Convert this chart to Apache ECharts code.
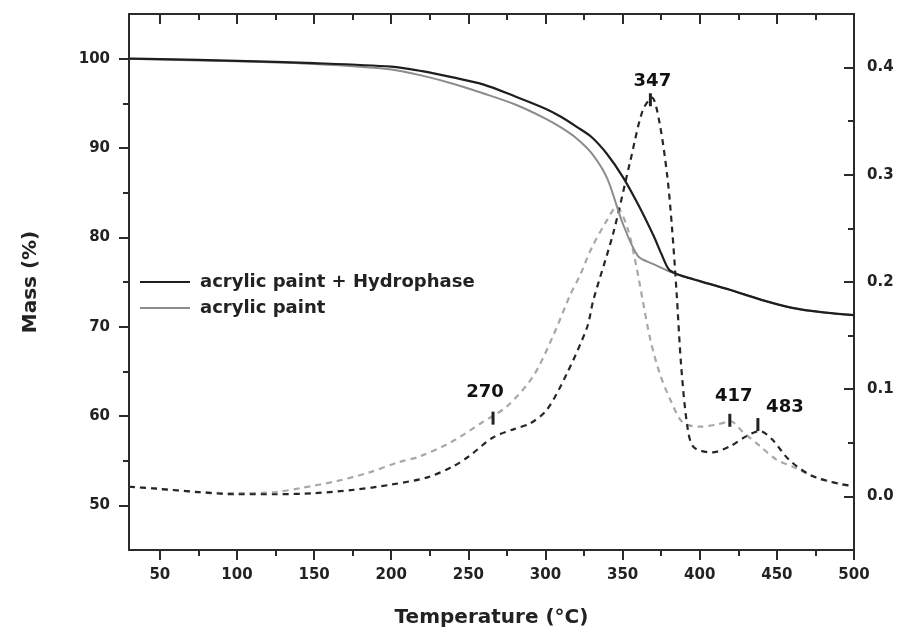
<!DOCTYPE html>
<html>
<head>
<meta charset="utf-8">
<script src="https://cdn.jsdelivr.net/npm/echarts@6/dist/echarts.min.js"></script>
<style>
  html, body { margin: 0; padding: 0; background: #fff; }
  #chart { width: 900px; height: 635px; }
</style>
</head>
<body>
<div id="chart"></div>
<script>
// mass curves (TG), left axis
const massTemps = [30, 50, 100, 150, 200, 220, 240, 260, 280, 300, 310, 320, 330, 340, 350, 360, 370, 375, 380, 385, 390, 400, 420, 440, 460, 480, 500];
const massHydro = [100, 99.95, 99.75, 99.5, 99.1, 98.6, 97.9, 97.1, 95.8, 94.4, 93.5, 92.4, 91.2, 89.3, 86.8, 83.7, 80.2, 78.2, 76.4, 75.9, 75.6, 75.1, 74.1, 73.0, 72.1, 71.6, 71.3];
const massPaint = [100, 99.9, 99.7, 99.4, 98.8, 98.1, 97.2, 96.1, 94.9, 93.3, 92.3, 91.1, 89.4, 86.6, 81.6, 77.9, 77.0, 76.6, 76.2, 75.9, 75.6, 75.1, 74.1, 73.0, 72.1, 71.6, 71.3];

// derivative curves (DTG), right axis
const dtgHydroTemps = [30, 50, 75, 100, 125, 150, 175, 200, 224, 240, 250, 266, 280, 290, 301, 314, 327, 331, 344, 355, 363, 369, 374, 379, 382, 385, 388, 392, 396, 408, 420, 430, 439, 447, 458, 473, 493, 500];
const dtgHydro = [0.009, 0.007, 0.004, 0.002, 0.002, 0.003, 0.006, 0.011, 0.018, 0.028, 0.037, 0.055, 0.063, 0.068, 0.081, 0.115, 0.158, 0.183, 0.246, 0.313, 0.36, 0.372, 0.348, 0.298, 0.251, 0.19, 0.121, 0.065, 0.046, 0.041, 0.047, 0.056, 0.061, 0.053, 0.034, 0.019, 0.011, 0.010];
const dtgPaintTemps = [30, 50, 75, 100, 125, 142, 164, 185, 205, 218, 238, 259, 275, 292, 305, 316, 322, 330, 340, 346, 353, 359, 363, 368, 374, 381, 389, 400, 411, 420, 428, 439, 450, 460, 475, 493, 500];
const dtgPaint = [0.009, 0.007, 0.004, 0.003, 0.004, 0.008, 0.014, 0.022, 0.032, 0.037, 0.05, 0.069, 0.084, 0.112, 0.15, 0.188, 0.205, 0.232, 0.258, 0.27, 0.251, 0.214, 0.183, 0.146, 0.115, 0.09, 0.069, 0.065, 0.067, 0.07, 0.06, 0.047, 0.034, 0.028, 0.018, 0.011, 0.010];

// peak annotations
const peakNames = ['270', '347', '417', '483'];
const peakTemps = [266, 368, 419.5, 437.7];
const peakMarks = [0.073, 0.370, 0.071, 0.067];

// axis ticks
const tempTicks = [50, 100, 150, 200, 250, 300, 350, 400, 450, 500];
const tempMinor = [75, 125, 175, 225, 275, 325, 375, 425, 475];
const massTicks = [50, 60, 70, 80, 90, 100];
const massMinor = [55, 65, 75, 85, 95];
const dtgTicks = [0, 0.1, 0.2, 0.3, 0.4];
const dtgMinor = [0.05, 0.15, 0.25, 0.35];

const font = "'DejaVu Sans', sans-serif";
const axisColor = '#2b2b2b';

const pairs = (xs, ys) => xs.map((x, i) => [x, ys[i]]);

function tickAxis(extra) {
  return Object.assign({
    type: 'value',
    splitLine: { show: false },
    axisLine: { show: false, onZero: false, lineStyle: { color: axisColor, width: 2 } },
    axisLabel: { show: false },
  }, extra);
}

const xBase = { min: 30, max: 500 };
const xAxes = [
  tickAxis(Object.assign({}, xBase, {
    position: 'bottom',
    axisLine: { show: true, onZero: false, lineStyle: { color: axisColor, width: 2 } },
    axisTick: { show: true, inside: false, length: 10, customValues: tempTicks, lineStyle: { color: axisColor, width: 2 } },
    axisLabel: { show: true, customValues: tempTicks, margin: 18, color: '#222', fontFamily: font, fontWeight: 'bold', fontSize: 15 },
    name: 'Temperature (°C)',
    nameLocation: 'middle',
    nameGap: 58,
    nameTextStyle: { color: '#222', fontFamily: font, fontWeight: 'bold', fontSize: 20 },
  })),
  tickAxis(Object.assign({}, xBase, {
    position: 'bottom',
    axisTick: { show: true, inside: false, length: 6, customValues: tempMinor, lineStyle: { color: axisColor, width: 2 } },
  })),
  tickAxis(Object.assign({}, xBase, {
    position: 'top',
    axisLine: { show: true, onZero: false, lineStyle: { color: axisColor, width: 2 } },
    axisTick: { show: true, inside: true, length: 10, customValues: tempTicks, lineStyle: { color: axisColor, width: 2 } },
  })),
  tickAxis(Object.assign({}, xBase, {
    position: 'top',
    axisTick: { show: true, inside: true, length: 6, customValues: tempMinor, lineStyle: { color: axisColor, width: 2 } },
  })),
];

const yAxes = [
  tickAxis({
    min: 45, max: 105, position: 'left',
    axisLine: { show: true, onZero: false, lineStyle: { color: axisColor, width: 2 } },
    axisTick: { show: true, inside: false, length: 10, customValues: massTicks, lineStyle: { color: axisColor, width: 2 } },
    axisLabel: { show: true, customValues: massTicks, margin: 19, color: '#222', fontFamily: font, fontWeight: 'bold', fontSize: 15 },
    name: 'Mass (%)',
    nameLocation: 'middle',
    nameGap: 88,
    nameTextStyle: { color: '#222', fontFamily: font, fontWeight: 'bold', fontSize: 20 },
  }),
  tickAxis({
    min: -0.05, max: 0.45, position: 'right',
    axisLine: { show: true, onZero: false, lineStyle: { color: axisColor, width: 2 } },
    axisTick: { show: true, inside: true, length: 10, customValues: dtgTicks, lineStyle: { color: axisColor, width: 2 } },
    axisLabel: { show: true, customValues: dtgTicks, margin: 13, color: '#222', fontFamily: font, fontWeight: 'bold', fontSize: 15, formatter: v => v.toFixed(1) },
  }),
  tickAxis({
    min: 45, max: 105, position: 'left',
    axisTick: { show: true, inside: false, length: 6, customValues: massMinor, lineStyle: { color: axisColor, width: 2 } },
  }),
  tickAxis({
    min: -0.05, max: 0.45, position: 'right',
    axisTick: { show: true, inside: true, length: 6, customValues: dtgMinor, lineStyle: { color: axisColor, width: 2 } },
  }),
];

// label nudges so the numbers sit like in the figure
const peakLabelOffsets = [[-8, -10], [2, -3], [4, -8], [27, -2]];

const chart = echarts.init(document.getElementById('chart'), null, { renderer: 'canvas' });
chart.setOption({
  animation: false,
  backgroundColor: '#fff',
  grid: { left: 129, right: 46, top: 14, bottom: 85 },
  xAxis: xAxes,
  yAxis: yAxes,
  legend: {
    data: [
      { name: 'acrylic paint + Hydrophase', itemStyle: { color: '#1e1e1e' } },
      { name: 'acrylic paint', itemStyle: { color: '#8c8c8c' } },
    ],
    orient: 'vertical',
    left: 135,
    top: 267,
    icon: 'rect',
    itemWidth: 50,
    itemHeight: 2.2,
    itemGap: 6,
    textStyle: { color: '#222', fontFamily: font, fontWeight: 'bold', fontSize: 18, lineHeight: 20, padding: [0, 0, 0, 5] },
  },
  series: [
    {
      name: 'dtg paint', type: 'line', xAxisIndex: 0, yAxisIndex: 1,
      data: pairs(dtgPaintTemps, dtgPaint), symbol: 'none', smooth: 0.3,
      lineStyle: { color: '#a8a8a8', width: 2.2, type: [6, 5] },
    },
    {
      name: 'dtg hydro', type: 'line', xAxisIndex: 0, yAxisIndex: 1,
      data: pairs(dtgHydroTemps, dtgHydro), symbol: 'none', smooth: 0.3,
      lineStyle: { color: '#262626', width: 2.2, type: [6, 5] },
    },
    {
      name: 'acrylic paint', type: 'line', xAxisIndex: 0, yAxisIndex: 0,
      data: pairs(massTemps, massPaint), symbol: 'none', smooth: 0.3,
      itemStyle: { color: '#8c8c8c' },
      lineStyle: { color: '#8c8c8c', width: 2 },
    },
    {
      name: 'acrylic paint + Hydrophase', type: 'line', xAxisIndex: 0, yAxisIndex: 0,
      data: pairs(massTemps, massHydro), symbol: 'none', smooth: 0.3,
      itemStyle: { color: '#1e1e1e' },
      lineStyle: { color: '#1e1e1e', width: 2.2 },
    },
    {
      name: 'peaks', type: 'scatter', xAxisIndex: 0, yAxisIndex: 1, z: 5,
      symbol: 'rect', symbolSize: [3, 13],
      itemStyle: { color: '#222', opacity: 1 },
      data: peakTemps.map((t, i) => ({
        value: [t, peakMarks[i]],
        label: {
          show: true, position: 'top', distance: 0, offset: peakLabelOffsets[i],
          formatter: peakNames[i], color: '#111', opacity: 1, fontFamily: font, fontWeight: 'bold', fontSize: 18,
        },
      })),
    },
  ],
});
</script>
</body>
</html>
